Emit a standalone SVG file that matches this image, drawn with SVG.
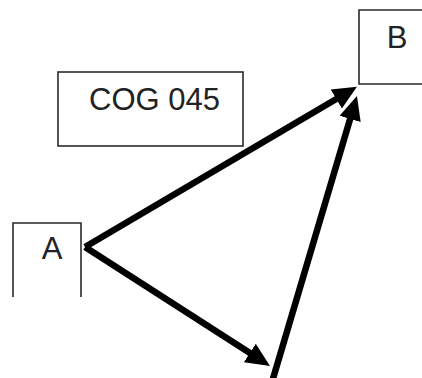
<svg xmlns="http://www.w3.org/2000/svg" width="422" height="378" viewBox="0 0 422 378">
  <style>
    .box { fill: none; stroke: #2a2a2a; stroke-width: 1.6; }
    .label { font-family: "Liberation Sans", Arial, sans-serif; font-size: 31px; fill: #222; }
    .arrow { stroke: #000; stroke-width: 6.5; fill: none; marker-end: url(#head); }
  </style>
  <defs>
    <marker id="head" markerUnits="userSpaceOnUse" markerWidth="26" markerHeight="24" viewBox="0 -12 26 24" refX="2" refY="0" orient="auto">
      <path d="M0,-11 L24,0 L0,11 z" fill="#000"/>
    </marker>
  </defs>
  <rect width="422" height="378" fill="#fff"/>

  <g id="node-b">
    <path class="box" d="M423,10 H359 V84 H423"/>
    <text class="label" x="397" y="48" text-anchor="middle">B</text>
  </g>

  <g id="node-cog">
    <rect class="box" x="58" y="72" width="185" height="74"/>
    <text class="label" x="89" y="110">COG 045</text>
  </g>

  <g id="node-a">
    <path class="box" d="M13,297 V223 H81 V297"/>
    <text class="label" x="52" y="259" text-anchor="middle">A</text>
  </g>

  <g id="connectors">
    <line class="arrow" x1="85" y1="247" x2="338" y2="98"/>
    <line class="arrow" x1="85" y1="247" x2="251.5" y2="354"/>
    <line class="arrow" x1="272" y1="382" x2="350.7" y2="117"/>
  </g>
</svg>
